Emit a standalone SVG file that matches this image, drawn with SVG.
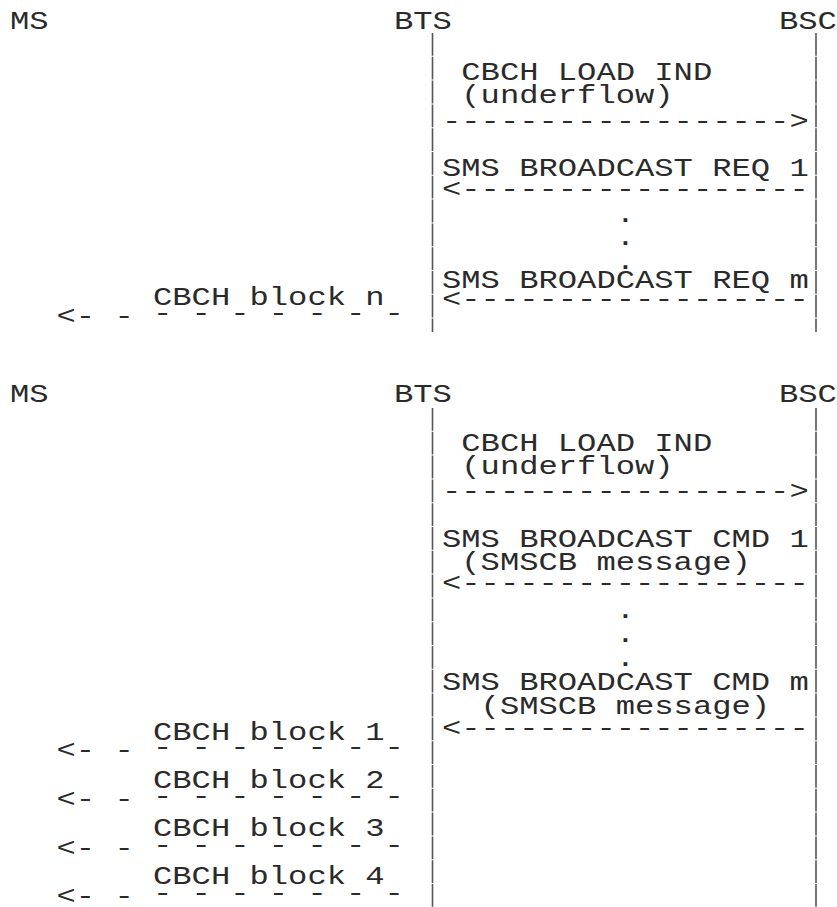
<svg xmlns="http://www.w3.org/2000/svg" width="837" height="907" viewBox="0 0 837 907">
<style>
  text { font-family: "Liberation Mono", monospace; font-size: 25px; fill: #2a2a2a; }
  .life { stroke: #555; stroke-width: 1.6; stroke-dasharray: 22.8 1; fill: none; }
</style>
<rect width="837" height="907" fill="#fff"/>

<!-- Top section -->
<g id="top">
  <g id="ms-1"><text x="10" y="29" textLength="38.6" lengthAdjust="spacingAndGlyphs">MS</text></g>
  <g id="bts-1"><text x="394" y="29" textLength="57.9" lengthAdjust="spacingAndGlyphs">BTS</text>
    <line class="life" x1="432.5" y1="33" x2="432.5" y2="332"/></g>
  <g id="bsc-1"><text x="779" y="29" textLength="57.9" lengthAdjust="spacingAndGlyphs">BSC</text>
    <line class="life" x1="816" y1="33" x2="816" y2="332"/></g>
  <g id="connectors-1">
    <text x="461.3" y="80" textLength="250.9" lengthAdjust="spacingAndGlyphs">CBCH LOAD IND</text>
    <text x="461.3" y="103" textLength="212.3" lengthAdjust="spacingAndGlyphs">(underflow)</text>
    <text x="442" y="129" textLength="366.7" lengthAdjust="spacingAndGlyphs">------------------&gt;</text>
    <text x="442" y="176" textLength="366.7" lengthAdjust="spacingAndGlyphs">SMS BROADCAST REQ 1</text>
    <text x="442" y="197" textLength="366.7" lengthAdjust="spacingAndGlyphs">&lt;------------------</text>
    <text x="615.7" y="221.5" textLength="19.3" lengthAdjust="spacingAndGlyphs">.</text>
    <text x="615.7" y="244.5" textLength="19.3" lengthAdjust="spacingAndGlyphs">.</text>
    <text x="615.7" y="268.5" textLength="19.3" lengthAdjust="spacingAndGlyphs">.</text>
    <text x="442" y="288" textLength="366.7" lengthAdjust="spacingAndGlyphs">SMS BROADCAST REQ m</text>
    <text x="442" y="307" textLength="366.7" lengthAdjust="spacingAndGlyphs">&lt;------------------</text>
    <text x="153" y="305" textLength="231.6" lengthAdjust="spacingAndGlyphs">CBCH block n</text>
    <text x="56.5" y="324" textLength="77.2" lengthAdjust="spacingAndGlyphs">&lt;- -</text>
    <text x="153" y="321" textLength="250.9" lengthAdjust="spacingAndGlyphs">- - - - - - -</text>
  </g>
</g>

<!-- Bottom section -->
<g id="bottom">
  <g id="ms-2"><text x="10" y="402" textLength="38.6" lengthAdjust="spacingAndGlyphs">MS</text></g>
  <g id="bts-2"><text x="394" y="402" textLength="57.9" lengthAdjust="spacingAndGlyphs">BTS</text>
    <line class="life" x1="432.5" y1="408" x2="432.5" y2="907"/></g>
  <g id="bsc-2"><text x="779" y="402" textLength="57.9" lengthAdjust="spacingAndGlyphs">BSC</text>
    <line class="life" x1="816" y1="408" x2="816" y2="907"/></g>
  <g id="connectors-2">
    <text x="461.3" y="451" textLength="250.9" lengthAdjust="spacingAndGlyphs">CBCH LOAD IND</text>
    <text x="461.3" y="474" textLength="212.3" lengthAdjust="spacingAndGlyphs">(underflow)</text>
    <text x="442" y="499" textLength="366.7" lengthAdjust="spacingAndGlyphs">------------------&gt;</text>
    <text x="442" y="547" textLength="366.7" lengthAdjust="spacingAndGlyphs">SMS BROADCAST CMD 1</text>
    <text x="461.3" y="570" textLength="289.5" lengthAdjust="spacingAndGlyphs">(SMSCB message)</text>
    <text x="442" y="591" textLength="366.7" lengthAdjust="spacingAndGlyphs">&lt;------------------</text>
    <text x="615.7" y="617.5" textLength="19.3" lengthAdjust="spacingAndGlyphs">.</text>
    <text x="615.7" y="641.5" textLength="19.3" lengthAdjust="spacingAndGlyphs">.</text>
    <text x="615.7" y="665.5" textLength="19.3" lengthAdjust="spacingAndGlyphs">.</text>
    <text x="442" y="690" textLength="366.7" lengthAdjust="spacingAndGlyphs">SMS BROADCAST CMD m</text>
    <text x="480.6" y="714" textLength="289.5" lengthAdjust="spacingAndGlyphs">(SMSCB message)</text>
    <text x="442" y="736" textLength="366.7" lengthAdjust="spacingAndGlyphs">&lt;------------------</text>

    <text x="153" y="740" textLength="231.6" lengthAdjust="spacingAndGlyphs">CBCH block 1</text>
    <text x="56.5" y="758" textLength="77.2" lengthAdjust="spacingAndGlyphs">&lt;- -</text>
    <text x="153" y="755" textLength="250.9" lengthAdjust="spacingAndGlyphs">- - - - - - -</text>

    <text x="153" y="788" textLength="231.6" lengthAdjust="spacingAndGlyphs">CBCH block 2</text>
    <text x="56.5" y="807" textLength="77.2" lengthAdjust="spacingAndGlyphs">&lt;- -</text>
    <text x="153" y="804" textLength="250.9" lengthAdjust="spacingAndGlyphs">- - - - - - -</text>

    <text x="153" y="836" textLength="231.6" lengthAdjust="spacingAndGlyphs">CBCH block 3</text>
    <text x="56.5" y="856" textLength="77.2" lengthAdjust="spacingAndGlyphs">&lt;- -</text>
    <text x="153" y="853" textLength="250.9" lengthAdjust="spacingAndGlyphs">- - - - - - -</text>

    <text x="153" y="884" textLength="231.6" lengthAdjust="spacingAndGlyphs">CBCH block 4</text>
    <text x="56.5" y="904" textLength="77.2" lengthAdjust="spacingAndGlyphs">&lt;- -</text>
    <text x="153" y="901" textLength="250.9" lengthAdjust="spacingAndGlyphs">- - - - - - -</text>
  </g>
</g>
</svg>
